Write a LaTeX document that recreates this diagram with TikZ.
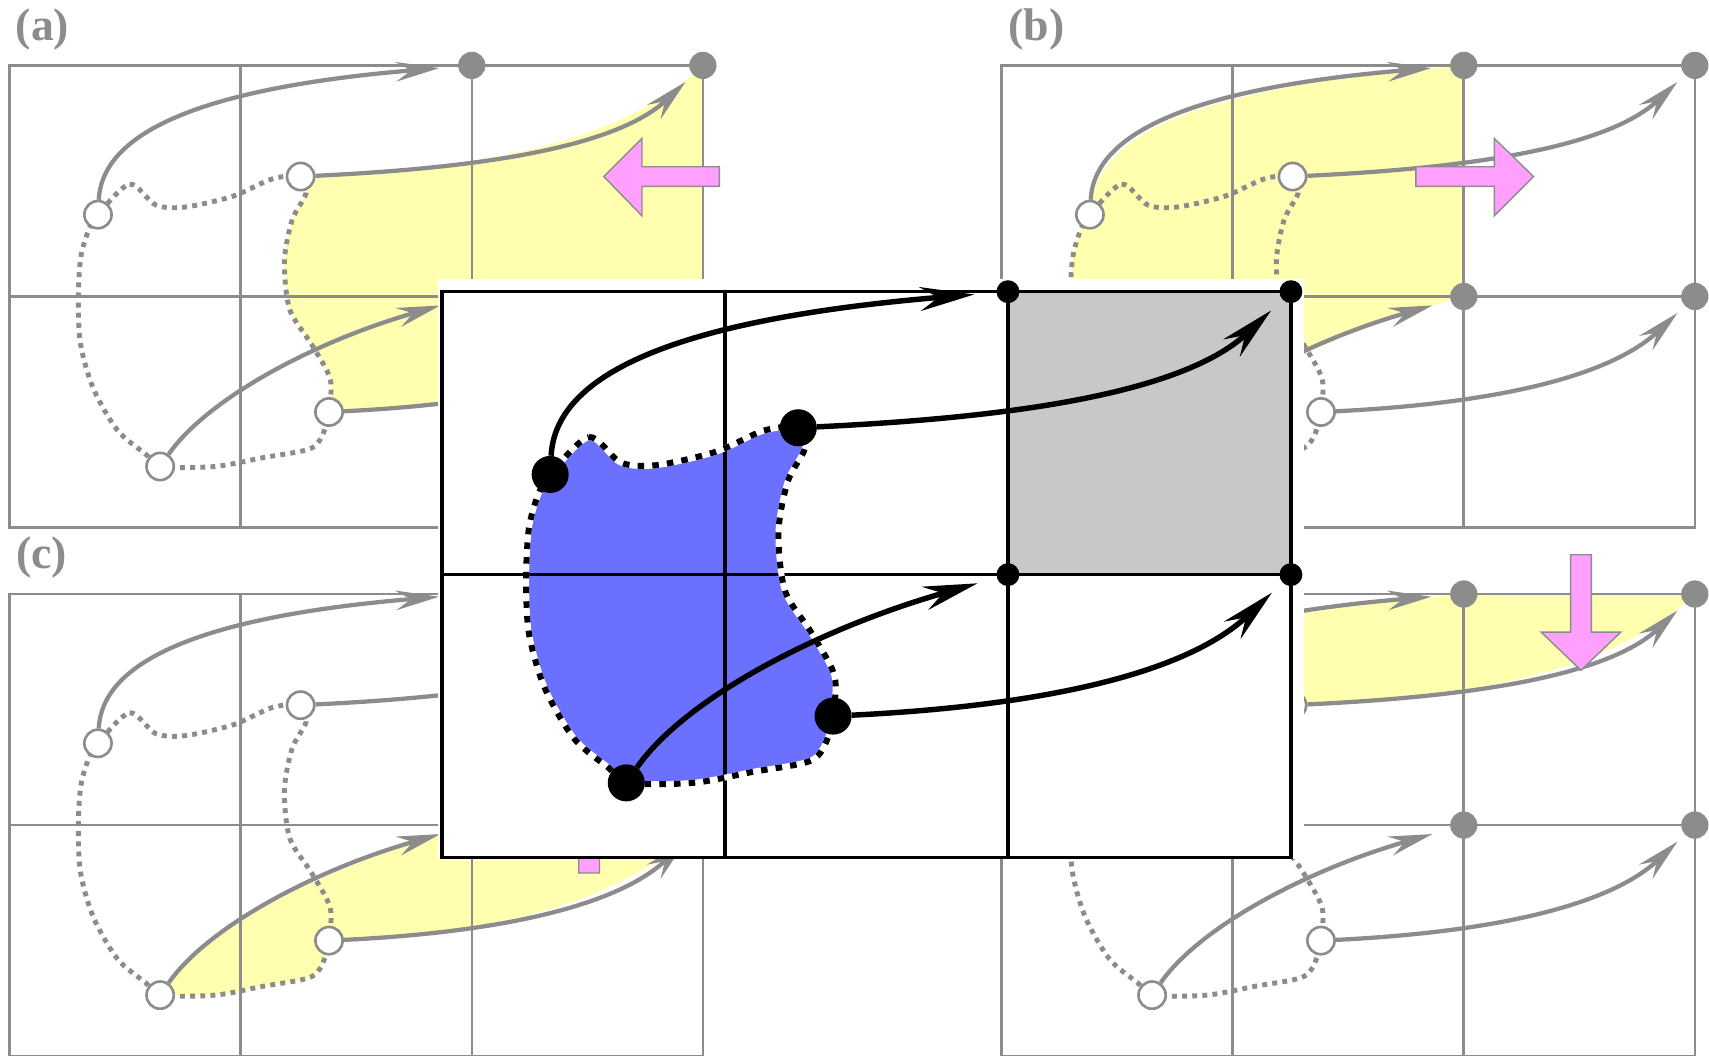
\documentclass[tikz,border=0pt]{standalone}
\usepackage{fontspec}
\setmainfont{Liberation Serif}
\usetikzlibrary{arrows.meta}
\definecolor{gline}{RGB}{140,140,140}
\definecolor{pinkf}{RGB}{255,160,255}
\definecolor{yel}{RGB}{255,255,175}
\definecolor{blueF}{RGB}{107,112,255}
\definecolor{greyF}{RGB}{200,200,200}
\newcommand\shapeoutline{plot[smooth cycle] coordinates {(0.382,0.646) (0.519,0.514) (0.632,0.604) (0.759,0.613) (0.967,0.566) (1.137,0.491) (1.259,0.481) (1.283,0.552) (1.222,0.670) (1.189,0.849) (1.212,1.057) (1.307,1.208) (1.387,1.358) (1.382,1.5) (1.368,1.566) (1.307,1.656) (1.094,1.698) (0.887,1.736) (0.651,1.736) (0.590,1.684) (0.467,1.580) (0.363,1.401) (0.307,1.208) (0.297,1.014) (0.307,0.835) (0.340,0.717)}}
\newcommand\greypanel{%
 \draw[gridg] (0,0) rectangle (3,2) (1,0) -- (1,2) (2,0) -- (2,2) (0,1) -- (3,1);
 \draw[dotg] \shapeoutline;
 \node[wcirc] (A) at (0.382,0.646) {};
 \node[wcirc] (B) at (1.259,0.481) {};
 \node[wcirc] (C) at (0.651,1.736) {};
 \node[wcirc] (D) at (1.382,1.5) {};
 \node[gdot] (T00) at (2,0) {};
 \node[gdot] (T10) at (3,0) {};
 \node[gdot] (T01) at (2,1) {};
 \node[gdot] (T11) at (3,1) {};
 \draw[garrow, shorten >=30pt] (A) .. controls (0.40,0.30) and (0.80,0.10) .. (T00.center);
 \draw[garrow, shorten >=22pt] (B) .. controls (1.9,0.45) and (2.6,0.38) .. (T10.center);
 \draw[garrow, shorten >=30pt] (C) .. controls (0.85,1.45) and (1.3,1.2) .. (T01.center);
 \draw[garrow, shorten >=22pt] (D) .. controls (2.0,1.47) and (2.6,1.38) .. (T11.center);
}
\begin{document}
\begin{tikzpicture}[x=1pt,y=-1pt,
  gridg/.style={draw=gline, line width=2.4pt},
  dotg/.style={draw=gline, line width=4.5pt, dash pattern=on 4.5pt off 4.8pt},
  garrow/.style={draw=gline, line width=3.9pt, -{Stealth[length=40pt,width=18pt,inset=14pt]}},
  wcirc/.style={circle, draw=gline, fill=white, line width=2.4pt, minimum size=25pt, inner sep=0pt},
  gdot/.style={circle, fill=gline, minimum size=25pt, inner sep=0pt},
  bdot/.style={circle, fill=black, minimum size=34pt, inner sep=0pt},
  sdot/.style={circle, fill=black, minimum size=21pt, inner sep=0pt},
  dotb/.style={draw=black, line width=5.5pt, dash pattern=on 6pt off 7.5pt},
  barrow/.style={draw=black, line width=5pt, -{Stealth[length=50pt,width=22pt,inset=17pt]}},
  pinkarrow/.style={fill=pinkf, draw=gline, line width=1.3pt},
  lab/.style={text=gline, font=\fontsize{42}{42}\selectfont\bfseries, inner sep=0pt}]
\useasboundingbox (0,0) rectangle (1568,968);
\clip (0,0) rectangle (1568,968);
\fill[white] (0,0) rectangle (1568,968);

% panel (a)
\begin{scope}[shift={(8.9pt,-60pt)}, x=212pt, y=-212pt, name prefix=pa-]
 \fill[yel] (1.259,0.481) .. controls (1.9,0.45) and (2.6,0.38) .. (3,0) -- (3,1) .. controls (2.6,1.38) and (2.0,1.47) .. (1.382,1.5) -- plot[smooth] coordinates {(1.382,1.5) (1.387,1.358) (1.307,1.208) (1.212,1.057) (1.189,0.849) (1.222,0.670) (1.283,0.552) (1.259,0.481)} -- cycle;
 \greypanel
\end{scope}
\draw[pinkarrow] (660,153) -- (589,153) -- (589,127) -- (554,162) -- (589,198) -- (589,171) -- (660,171) -- cycle;

% panel (b)
\begin{scope}[shift={(919pt,-60pt)}, x=212pt, y=-212pt, name prefix=pb-]
 \fill[yel] (0.382,0.646) .. controls (0.40,0.30) and (0.80,0.10) .. (2,0) -- (2,1) .. controls (1.3,1.2) and (0.85,1.45) .. (0.651,1.736) -- plot[smooth] coordinates {(0.651,1.736) (0.590,1.684) (0.467,1.580) (0.363,1.401) (0.307,1.208) (0.297,1.014) (0.307,0.835) (0.340,0.717) (0.382,0.646)} -- cycle;
 \greypanel
\end{scope}
\draw[pinkarrow] (1299,153) -- (1371,153) -- (1371,127) -- (1407,162) -- (1371,198) -- (1371,171) -- (1299,171) -- cycle;

% panel (c)
\begin{scope}[shift={(8.9pt,-545pt)}, x=212pt, y=-212pt, name prefix=pcc-]
 \fill[yel] (0.651,1.736) .. controls (0.85,1.45) and (1.3,1.2) .. (2,1) -- (3,1) .. controls (2.6,1.38) and (2.0,1.47) .. (1.382,1.5) -- plot[smooth] coordinates {(1.382,1.5) (1.368,1.566) (1.307,1.656) (1.094,1.698) (0.887,1.736) (0.651,1.736)} -- cycle;
 \greypanel
\end{scope}
\draw[pinkarrow] (531,801) -- (531,730) -- (504,730) -- (540.5,694) -- (577,730) -- (550,730) -- (550,801) -- cycle;

% panel (d)
\begin{scope}[shift={(919pt,-545pt)}, x=212pt, y=-212pt, name prefix=pd-]
 \fill[yel] (0.382,0.646) .. controls (0.40,0.30) and (0.80,0.10) .. (2,0) -- (3,0) .. controls (2.6,0.38) and (1.9,0.45) .. (1.259,0.481) -- plot[smooth] coordinates {(1.259,0.481) (1.137,0.491) (0.967,0.566) (0.759,0.613) (0.632,0.604) (0.519,0.514) (0.382,0.646)} -- cycle;
 \greypanel
\end{scope}
\draw[pinkarrow] (1441,509) -- (1441,580) -- (1414,580) -- (1450.5,615) -- (1487,580) -- (1460,580) -- (1460,509) -- cycle;

% central panel
\fill[white] (402,256) rectangle (1196,788);
\begin{scope}[shift={(405.6pt,-267.6pt)}, x=259.6pt, y=-259.6pt, name prefix=pm-]
 \fill[greyF] (2,0) rectangle (3,1);
 \fill[blueF] \shapeoutline;
 \draw[black, line width=3pt] (1,0) -- (1,2) (2,0) -- (2,2) (0,1) -- (3,1);
 \draw[black, line width=3.3pt] (0,0) rectangle (3,2);
 \draw[white, line width=5.5pt] \shapeoutline;
 \draw[dotb] \shapeoutline;
 \node[bdot] (A) at (0.382,0.646) {};
 \node[bdot] (B) at (1.259,0.481) {};
 \node[bdot] (C) at (0.651,1.736) {};
 \node[bdot] (D) at (1.382,1.5) {};
 \node[sdot] (T00) at (2,0) {};
 \node[sdot] (T10) at (3,0) {};
 \node[sdot] (T01) at (2,1) {};
 \node[sdot] (T11) at (3,1) {};
 \draw[barrow, shorten >=31pt] (A) .. controls (0.40,0.30) and (0.80,0.10) .. (T00.center);
 \draw[barrow, shorten >=25pt] (B) .. controls (1.9,0.45) and (2.6,0.38) .. (T10.center);
 \draw[barrow, shorten >=29pt] (C) .. controls (0.85,1.45) and (1.3,1.2) .. (T01.center);
 \draw[barrow, shorten >=24pt] (D) .. controls (2.0,1.47) and (2.6,1.38) .. (T11.center);
\end{scope}

% labels
\node[lab] (la) at (39,27.5) {(a)};
\node[lab] (lb) at (951,27.5) {(b)};
\node[lab] (lc) at (38,511.5) {(c)};
\end{tikzpicture}
\end{document}
